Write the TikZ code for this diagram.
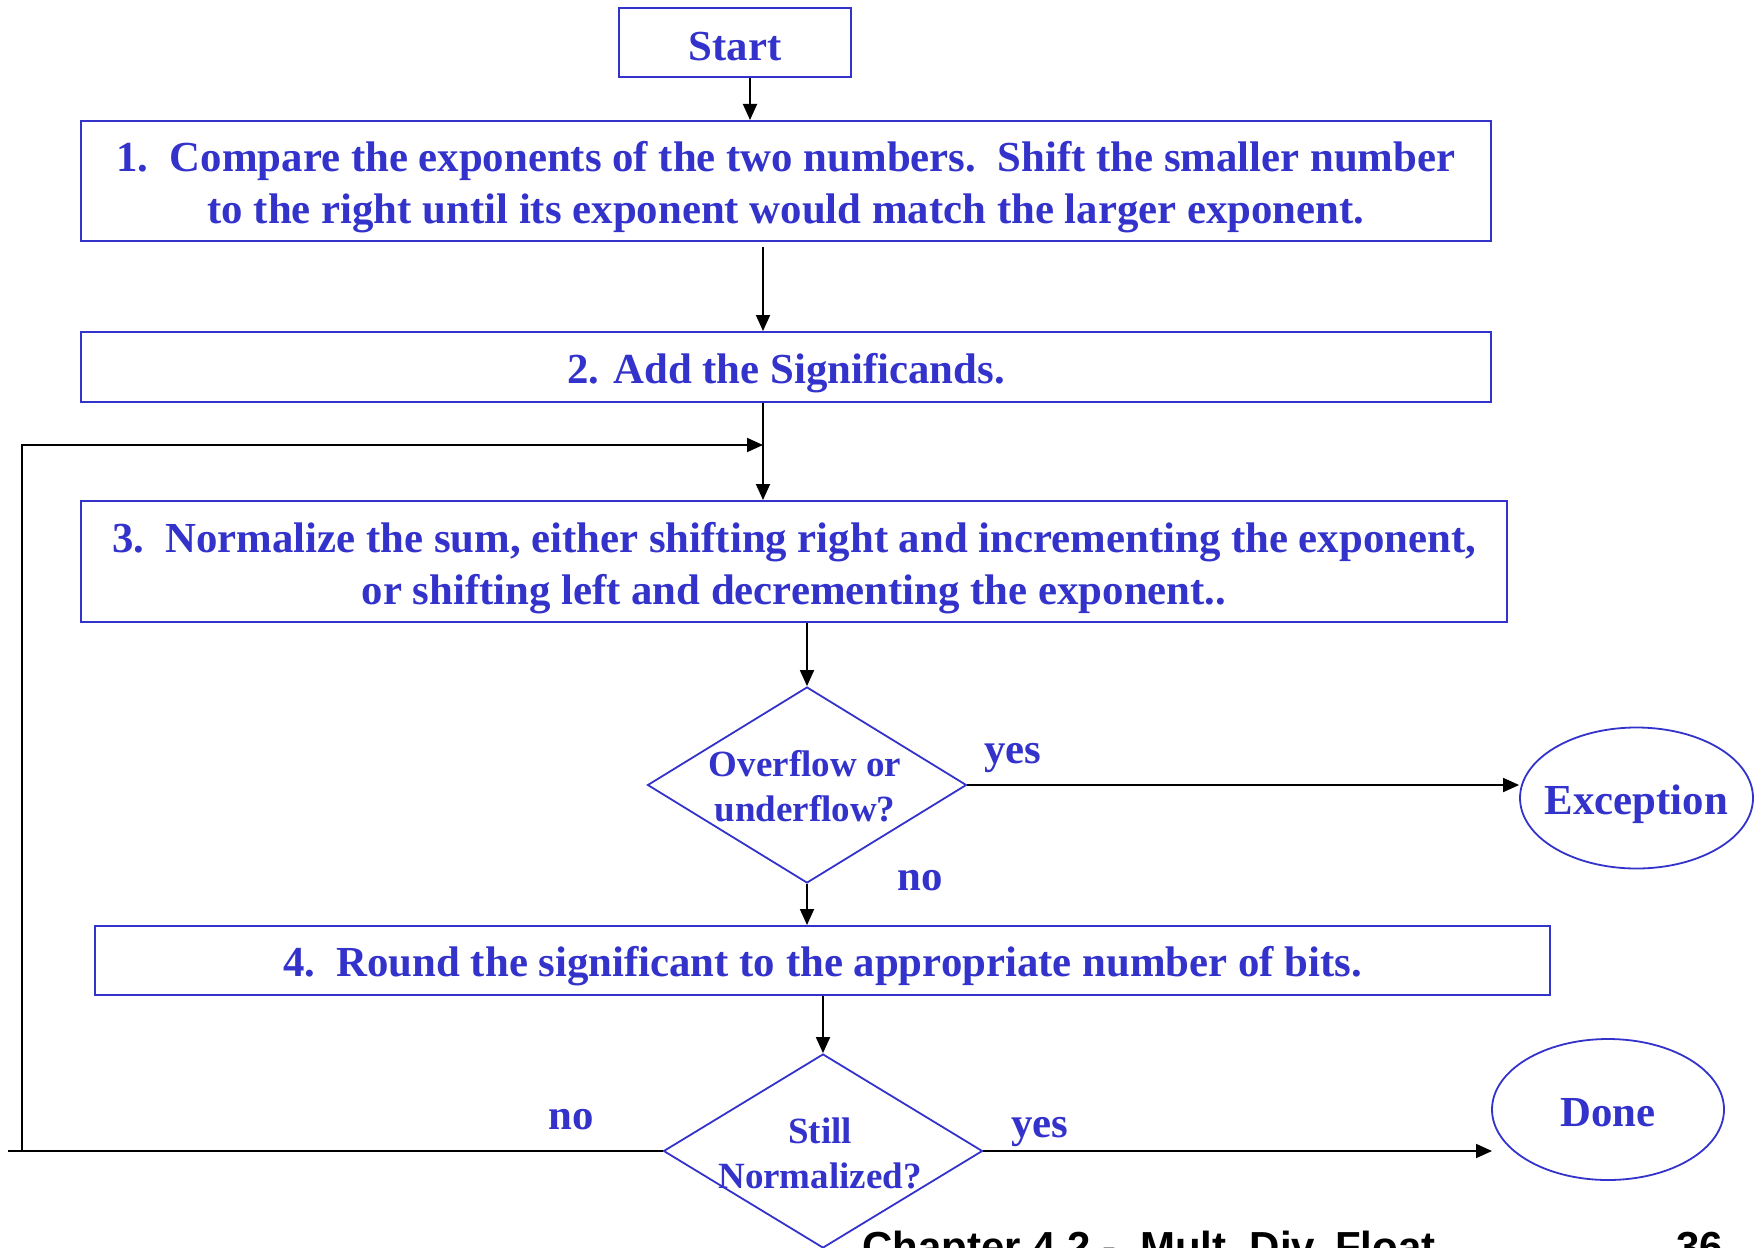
\documentclass[tikz,border=0pt]{standalone}
\usepackage{fontspec}
\setmainfont{Liberation Serif}
\newfontfamily\footfont{Liberation Sans}
\usetikzlibrary{arrows.meta,shapes.geometric}
\definecolor{flowblue}{RGB}{51,51,204}
\tikzset{
  stepbox/.style={draw=flowblue,line width=1pt,rectangle,inner sep=0pt},
  steptext/.style={text=flowblue,font=\fontsize{21.4}{25.7}\selectfont\bfseries,align=center,inner sep=0pt},
  decision/.style={draw=flowblue,line width=0.9pt,diamond,inner sep=0pt},
  dtext/.style={text=flowblue,font=\fontsize{18.5}{22.5}\selectfont\bfseries,align=center,inner sep=0pt},
  terminal/.style={draw=flowblue,line width=0.9pt,ellipse,inner sep=0pt},
  answer/.style={text=flowblue,font=\fontsize{21.4}{25.7}\selectfont\bfseries,anchor=base,inner sep=0pt},
  flow/.style={draw=black,line width=0.9pt,-{Triangle[length=8pt,width=7pt]}},
  plain/.style={draw=black,line width=0.9pt},
  foot/.style={font=\fontsize{21}{25}\selectfont\footfont\bfseries,anchor=base west,inner sep=0pt}
}
\begin{document}
\begin{tikzpicture}[x=0.5pt,y=-0.5pt]
\useasboundingbox (0,0) rectangle (1755,1247);
\clip (0,0) rectangle (1755,1247);
\fill[white] (0,0) rectangle (1755,1247);

% process steps (frames first, their texts set slightly below centre)
\node[stepbox,minimum width=116pt,minimum height=34.5pt] (start) at (735,42.5) {};
\node[steptext] (startt) at ([yshift=-2pt]start.center) {Start};

\node[stepbox,minimum width=705pt,minimum height=60pt] (s1) at (786,181) {};
\node[steptext] (s1t) at ([yshift=-3pt]s1.center)
  {1.\ \ Compare the exponents of the two numbers.\ \ Shift the smaller number\\
   to the right until its exponent would match the larger exponent.};

\node[stepbox,minimum width=705pt,minimum height=35pt] (s2) at (786,367) {};
\node[steptext] (s2t) at ([yshift=-3pt]s2.center) {2. Add the Significands.};

\node[stepbox,minimum width=713pt,minimum height=60.5pt] (s3) at (794,561.5) {};
\node[steptext] (s3t) at ([yshift=-3.3pt]s3.center)
  {3.\ \ Normalize the sum, either shifting right and incrementing the exponent,\\
   or shifting left and decrementing the exponent..};

\node[decision,minimum width=159.5pt,minimum height=98pt] (d1) at (807,785) {};
\node[dtext] (d1t) at ([xshift=-1pt,yshift=-0.5pt]d1.center) {Overflow or\\underflow?};

\node[terminal,minimum width=116.5pt,minimum height=70.5pt] (exc) at (1636.5,798) {};
\node[steptext] (exct) at ([yshift=-3pt]exc.center) {Exception};

\node[stepbox,minimum width=727.5pt,minimum height=34.5pt] (s4) at (822.5,960.5) {};
\node[steptext] (s4t) at ([yshift=-3pt]s4.center)
  {4.\ \ Round the significant to the appropriate number of bits.};

\node[decision,minimum width=159.5pt,minimum height=97pt] (d2) at (823,1151) {};
\node[dtext] (d2t) at ([xshift=-1.5pt,yshift=-1pt]d2.center) {Still\\Normalized?};

\node[terminal,minimum width=116pt,minimum height=70.5pt] (done) at (1608,1109.5) {};
\node[steptext] (donet) at ([yshift=-1.5pt]done.center) {Done};

% branch labels
\node[answer] (yes1) at (1013,763) {yes};
\node[answer] (no1) at (920,890) {no};
\node[answer] (yes2) at (1040,1137) {yes};
\node[answer] (no2) at (571,1129) {no};

% helper points
\coordinate (xa) at (750,0);
\coordinate (xb) at (763,0);
\coordinate (s1out) at (763,247);
\coordinate (doneend) at (1492,1151);
\coordinate (loopend) at (8,1151);
\coordinate (loopcorner) at (22,1151);
\coordinate (loopjoin) at (763,445);

% connectors
\draw[flow] (start.south -| xa) -- (s1.north -| xa);
\draw[flow] (s1out) -- (s2.north -| xb);
\draw[flow] (s2.south -| xb) -- (s3.north -| xb);
\draw[flow] (s3.south -| d1.north) -- (d1.north);
\draw[flow] (d1.east) -- (d1.east -| exc.west);
\draw[flow] (d1.south) -- (s4.north -| d1.south);
\draw[flow] (s4.south -| d2.north) -- (d2.north);
\draw[flow] (d2.east) -- (doneend);
\draw[plain] (d2.west) -- (loopend);
\draw[flow] (loopcorner) |- (loopjoin);

% page footer
\node[foot] (chap) at (862,1261) {Chapter 4.2 -\ \ Mult, Div, Float};
\node[foot] (page) at (1676,1261) {36};
\end{tikzpicture}
\end{document}
